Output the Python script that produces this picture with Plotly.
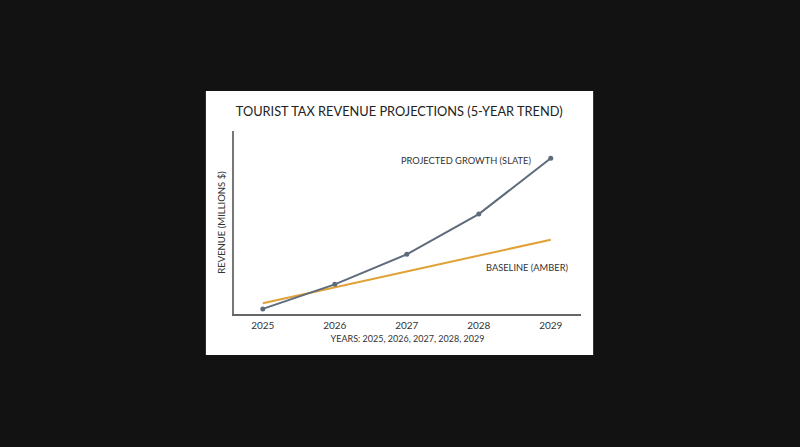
import plotly.graph_objects as go

# values (arbitrary units, y axis has no tick labels)
years = [2025, 2026, 2027, 2028, 2029]
projected = [2.8, 16.2, 32.6, 54.6, 85.1]
baseline = [5.9, 14.5, 23.3, 32.0, 40.6]

SLATE = "#5e6b7b"
AMBER = "#e0a136"
FONT = "Lato, 'Open Sans', sans-serif"
BG = "#121212"

fig = go.Figure()

fig.add_trace(go.Scatter(
    x=years, y=baseline, mode="lines",
    line=dict(color=AMBER, width=2),
    name="Baseline", hoverinfo="skip",
))
fig.add_trace(go.Scatter(
    x=years, y=projected, mode="lines+markers",
    line=dict(color=SLATE, width=2),
    marker=dict(color=SLATE, size=5),
    name="Projected", hoverinfo="skip",
))

# white card behind the chart
fig.add_shape(
    type="rect", xref="paper", yref="paper",
    x0=-0.081, x1=1.035, y0=-0.224, y1=1.219,
    fillcolor="white", line=dict(width=0), layer="below",
)

fig.add_annotation(
    x=years[-1], y=projected[-1], xref="x", yref="y",
    text="PROJECTED GROWTH (SLATE)", showarrow=False,
    xanchor="right", yanchor="middle", xshift=-18, yshift=-2,
    font=dict(family=FONT, size=9.3, color="#333"),
)
fig.add_annotation(
    x=years[-1], y=baseline[-1], xref="x", yref="y",
    text="BASELINE (AMBER)", showarrow=False,
    xanchor="center", yanchor="middle", xshift=-24, yshift=-28,
    font=dict(family=FONT, size=9.3, color="#333"),
)

fig.update_layout(
    width=800, height=447,
    paper_bgcolor=BG,
    plot_bgcolor="white",
    margin=dict(l=234, r=219, t=131, b=133),
    showlegend=False,
    font=dict(family=FONT, color="#333"),
    title=dict(
        text="TOURIST TAX REVENUE PROJECTIONS (5-YEAR TREND)",
        x=0.499, xanchor="center", y=1 - 112 / 447, yanchor="middle",
        font=dict(family=FONT, size=12.8, color="#222"),
    ),
)
fig.update_xaxes(
    range=[2024.6, 2029.42], tickvals=years, ticktext=[str(y) for y in years],
    showgrid=False, zeroline=False, showline=True,
    linecolor="#666", linewidth=2, ticks="", ticklabelstandoff=1,
    tickfont=dict(size=10, color="#333"),
    title=dict(text="YEARS: 2025, 2026, 2027, 2028, 2029",
               font=dict(size=9, color="#333"), standoff=6),
)
fig.update_yaxes(
    range=[0, 100], showticklabels=False, showgrid=False, zeroline=False,
    showline=True, linecolor="#777", linewidth=2, ticks="",
    title=dict(text="REVENUE (MILLIONS $)", font=dict(size=9.5, color="#333"),
               standoff=5),
)

fig.write_html(
    "out.html",
    config={"displayModeBar": False},
    post_script="document.body.style.margin='0';"
                f"document.body.style.background='{BG}';",
)
